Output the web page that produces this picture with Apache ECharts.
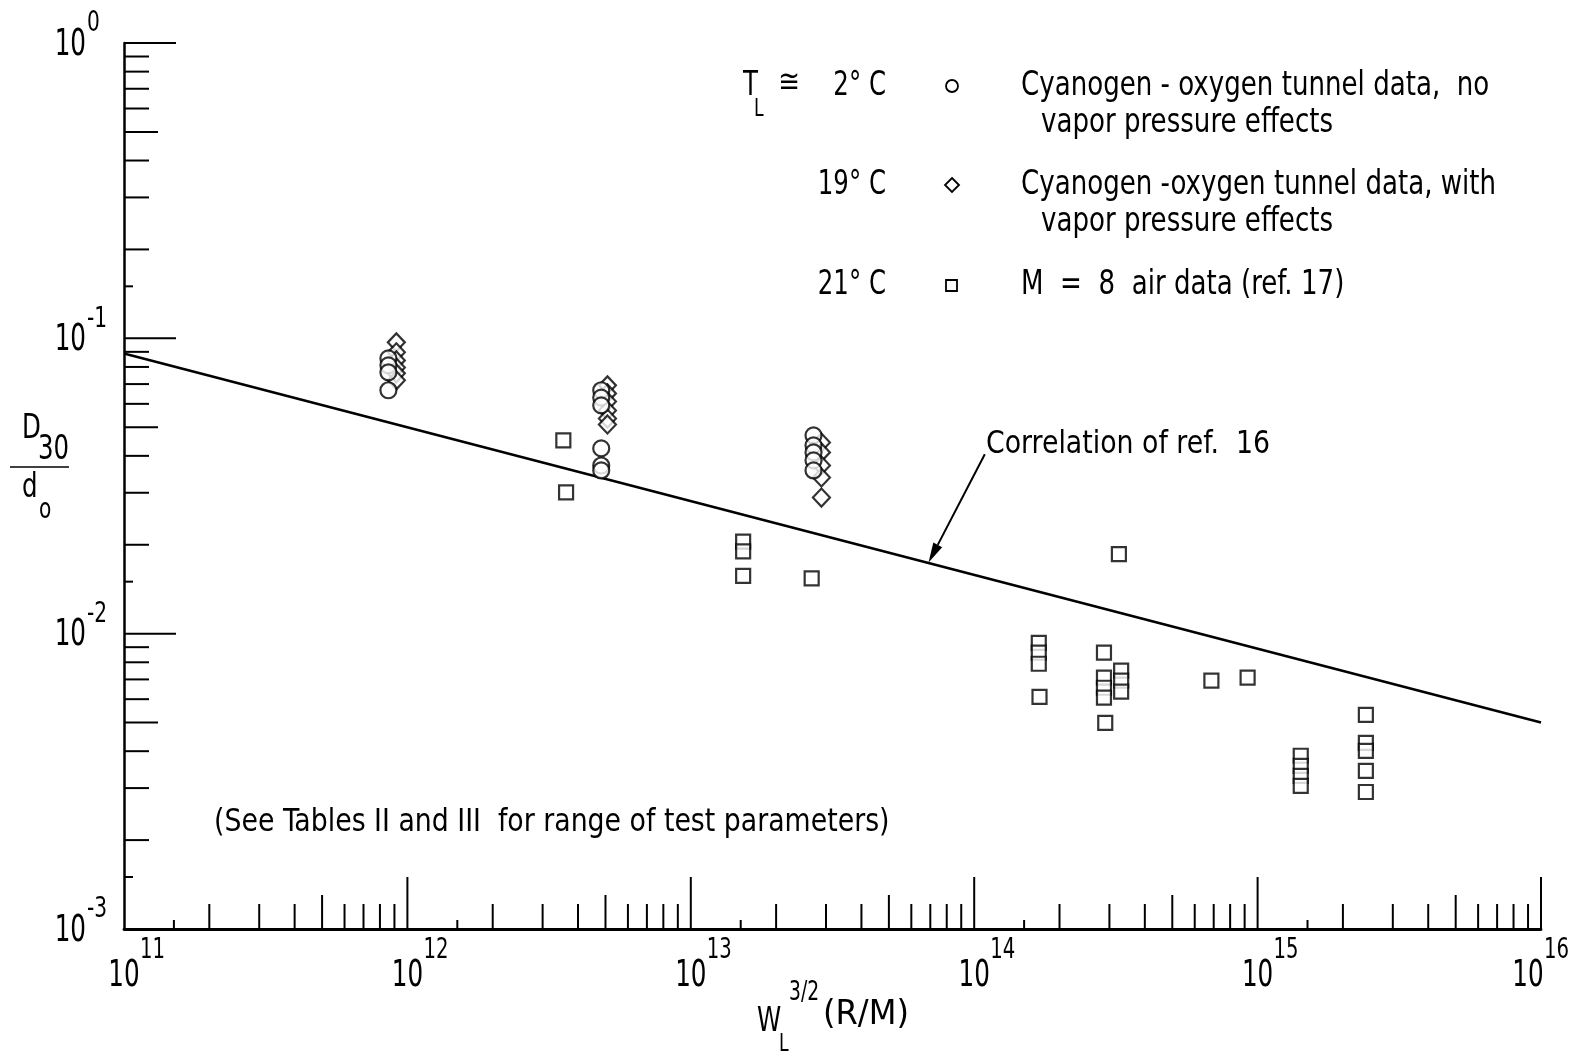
<!DOCTYPE html>
<html><head><meta charset="utf-8">
<script src="https://cdn.jsdelivr.net/npm/echarts@6/dist/echarts.min.js"></script>
<style>html,body{margin:0;padding:0;background:#fff}#c{width:1574px;height:1052px}</style>
</head><body><div id="c"></div>
<script>
// ---- axis ranges & ticks ----
const xMin = 1e11, xMax = 1e16, yMin = 1e-3, yMax = 1;
const tickMantissas = [1.5, 2, 3, 4, 5, 6, 7, 8, 9, 10];
const xDecades = [11, 12, 13, 14, 15];
const yDecades = [-3, -2, -1];
const xLabelExps = [11, 12, 13, 14, 15, 16];
const yLabelExps = [0, -1, -2, -3];

// ---- data ----
// T_L ~ 2 C : cyanogen-oxygen tunnel data, no vapor pressure effects (circles)
const circleData = [
  [8.57e11, 0.0855], [8.57e11, 0.0810], [8.57e11, 0.0767], [8.57e11, 0.0667],
  [4.83e12, 0.0667], [4.83e12, 0.0630], [4.83e12, 0.0593], [4.83e12, 0.0424], [4.83e12, 0.0371], [4.83e12, 0.0357],
  [2.71e13, 0.0469], [2.71e13, 0.0434], [2.71e13, 0.0411], [2.71e13, 0.0386], [2.71e13, 0.0357]
];
// 19 C : cyanogen-oxygen tunnel data, with vapor pressure effects (diamonds)
const diamondData = [
  [9.14e11, 0.0969], [9.14e11, 0.0897], [9.14e11, 0.0842], [9.14e11, 0.0797], [9.14e11, 0.0761], [9.14e11, 0.0721],
  [5.08e12, 0.0693], [5.08e12, 0.0651], [5.08e12, 0.0611], [5.08e12, 0.0570], [5.08e12, 0.0535], [5.08e12, 0.0511],
  [2.89e13, 0.0444], [2.89e13, 0.0411], [2.89e13, 0.0371], [2.89e13, 0.0338], [2.89e13, 0.0289]
];
// 21 C : M = 8 air data (ref. 17) (squares)
const squareData = [
  [3.55e12, 0.0451], [3.63e12, 0.0301],
  [1.53e13, 0.0205], [1.53e13, 0.0190], [1.53e13, 0.0157], [2.67e13, 0.0154],
  [1.69e14, 0.00931], [1.69e14, 0.00862], [1.69e14, 0.00791], [1.70e14, 0.00611],
  [2.87e14, 0.00862], [2.87e14, 0.00710], [2.87e14, 0.00656], [2.87e14, 0.00607], [2.90e14, 0.00499],
  [3.24e14, 0.01860],
  [3.30e14, 0.00750], [3.30e14, 0.00693], [3.30e14, 0.00636],
  [6.87e14, 0.00693], [9.22e14, 0.00710],
  [1.42e15, 0.00386], [1.42e15, 0.00357], [1.42e15, 0.00330], [1.42e15, 0.00305],
  [2.41e15, 0.00531], [2.41e15, 0.00427], [2.41e15, 0.00401], [2.41e15, 0.00343], [2.41e15, 0.00291]
];
// Correlation of ref. 16
const correlationLine = [[1e11, 0.0889], [1e16, 0.0050]];
const correlationArrow = [[1.09e14, 0.0405], [6.9e13, 0.0174]];

// ---- texts ----
const FONT = "'DejaVu Sans Condensed','Liberation Sans Narrow','Liberation Sans',sans-serif";
const legendRows = [
  { temp: '2° C', sym: 'circle', lines: ['Cyanogen - oxygen tunnel data,  no', 'vapor pressure effects'] },
  { temp: '19° C', sym: 'diamond', lines: ['Cyanogen -oxygen tunnel data, with', 'vapor pressure effects'] },
  { temp: '21° C', sym: 'square', lines: ['M  =  8  air data (ref. 17)'] }
];
const noteText = '(See Tables II and III  for range of test parameters)';
const corrText = 'Correlation of ref.  16';

function tickLen(m) {
  if (m === 10) return 52;
  if (m === 5) return 34;
  if (m === 1.5) return 9;
  return 25;
}
const xTicks = [], yTicks = [];
xDecades.forEach(d => tickMantissas.forEach(m => xTicks.push([m * Math.pow(10, d), yMin, m])));
yDecades.forEach(d => tickMantissas.forEach(m => yTicks.push([xMin, m * Math.pow(10, d), m])));

const chart = echarts.init(document.getElementById('c'), null, { renderer: 'canvas' });
const markerStyle = { color: '#fff', borderColor: '#000', borderWidth: 2.2 };

chart.setOption({
  animation: false,
  backgroundColor: '#fff',
  grid: { left: 124, right: 33, top: 43, bottom: 123 },
  xAxis: {
    type: 'log', logBase: 10, min: xMin, max: xMax,
    axisLine: { lineStyle: { color: '#000', width: 2.8 } },
    axisTick: { show: false }, axisLabel: { show: false }, splitLine: { show: false }
  },
  yAxis: {
    type: 'log', logBase: 10, min: yMin, max: yMax,
    axisLine: { lineStyle: { color: '#000', width: 2.5 } },
    axisTick: { show: false }, axisLabel: { show: false }, splitLine: { show: false }
  },
  series: [
    {
      type: 'custom', clip: false, silent: true, z: 3,
      dimensions: ['x', 'y', 'm'], encode: { x: 0, y: 1 },
      data: xTicks,
      renderItem: (params, api) => {
        const p = api.coord([api.value(0), yMin]);
        const len = tickLen(api.value(2));
        return { type: 'line', shape: { x1: p[0], y1: p[1], x2: p[0], y2: p[1] - len }, style: { stroke: '#000', lineWidth: 2 } };
      }
    },
    {
      type: 'custom', clip: false, silent: true, z: 3,
      dimensions: ['x', 'y', 'm'], encode: { x: 0, y: 1 },
      data: yTicks,
      renderItem: (params, api) => {
        const p = api.coord([xMin, api.value(1)]);
        const len = tickLen(api.value(2));
        return { type: 'line', shape: { x1: p[0], y1: p[1], x2: p[0] + len, y2: p[1] }, style: { stroke: '#000', lineWidth: 2 } };
      }
    },
    {
      type: 'line', data: correlationLine, showSymbol: false, symbol: 'none', z: 2,
      lineStyle: { color: '#000', width: 2.6 }
    },
    { type: 'scatter', data: squareData, symbol: 'rect', symbolSize: 14, itemStyle: markerStyle, z: 4 },
    { type: 'scatter', data: diamondData, symbol: 'diamond', symbolSize: [17, 18], itemStyle: markerStyle, z: 5 },
    { type: 'scatter', data: circleData, symbol: 'circle', symbolSize: 16, itemStyle: markerStyle, z: 6 }
  ]
});

function px(v) { return chart.convertToPixel({ gridIndex: 0 }, v); }
function txt(x, y, s, size, align, sx) {
  return {
    type: 'text', x: x, y: y, z: 100, scaleX: sx || 1, scaleY: 1,
    style: { text: s, font: size + 'px ' + FONT, fill: '#000', textAlign: align || 'left', textVerticalAlign: 'middle', align: align || 'left', verticalAlign: 'middle' }
  };
}
const g = [];
// x tick labels
xLabelExps.forEach((e, i) => {
  const p = px([Math.pow(10, e), yMin]);
  const sh = (i === xLabelExps.length - 1) ? -13 : 0;
  g.push(txt(p[0] + sh, p[1] + 47, '10', 37, 'center', 0.74));
  g.push(txt(p[0] + sh + 16, p[1] + 22, String(e), 28, 'left', 0.78));
});
// y tick labels
yLabelExps.forEach(e => {
  const p = px([xMin, Math.pow(10, e)]);
  g.push(txt(p[0] - 38, p[1] + 2, '10', 37, 'right', 0.74));
  g.push(txt(p[0] - 37, p[1] - 19, String(e), 28, 'left', 0.8));
});
// axis titles
g.push(txt(757, 1022, 'W', 34, 'left', 0.8));
g.push(txt(779, 1045, 'L', 24, 'left', 0.8));
g.push(txt(789, 993, '3/2', 26, 'left', 0.8));
g.push(txt(823, 1015, '(R/M)', 34, 'left', 1.05));
g.push(txt(22, 429, 'D', 34, 'left', 0.8));
g.push(txt(38, 450, '30', 34, 'left', 0.8));
g.push({ type: 'line', z: 100, shape: { x1: 10, y1: 467, x2: 69, y2: 467 }, style: { stroke: '#000', lineWidth: 1.5 } });
g.push(txt(22, 488, 'd', 34, 'left', 0.8));
g.push(txt(39, 511, 'o', 28, 'left', 0.8));
// legend
const rowY = [86, 185, 285];
g.push(txt(743, rowY[0], 'T', 34, 'left', 0.8));
g.push(txt(754, rowY[0] + 24, 'L', 24, 'left', 0.8));
g.push(txt(789, rowY[0] - 2, '≅', 32, 'center', 0.9));
legendRows.forEach((r, i) => {
  const y = rowY[i];
  g.push(txt(886, y, r.temp, 34, 'right', 0.8));
  if (r.sym === 'circle') g.push({ type: 'circle', z: 100, shape: { cx: 952, cy: y, r: 6 }, style: { fill: '#fff', stroke: '#000', lineWidth: 1.8 } });
  if (r.sym === 'diamond') g.push({ type: 'polygon', z: 100, shape: { points: [[952, y - 7], [959, y], [952, y + 7], [945, y]] }, style: { fill: '#fff', stroke: '#000', lineWidth: 1.8 } });
  if (r.sym === 'square') g.push({ type: 'rect', z: 100, shape: { x: 946, y: y - 5, width: 11, height: 11 }, style: { fill: '#fff', stroke: '#000', lineWidth: 1.8 } });
  g.push(txt(1021, y, r.lines[0], 34, 'left', 0.853));
  if (r.lines[1]) g.push(txt(1041, y + 37, r.lines[1], 34, 'left', 0.853));
});
// note
g.push(txt(214, 823, noteText, 32, 'left', 0.93));
// correlation annotation
g.push(txt(986, 445, corrText, 32, 'left', 0.93));
const a0 = px(correlationArrow[0]), a1 = px(correlationArrow[1]);
const ang = Math.atan2(a1[1] - a0[1], a1[0] - a0[0]);
const hl = 20, hw = 5;
const bx = a1[0] - hl * Math.cos(ang), by = a1[1] - hl * Math.sin(ang);
g.push({ type: 'line', z: 100, shape: { x1: a0[0], y1: a0[1], x2: bx, y2: by }, style: { stroke: '#000', lineWidth: 2 } });
g.push({ type: 'polygon', z: 100, shape: { points: [[a1[0], a1[1]], [bx + hw * Math.sin(ang), by - hw * Math.cos(ang)], [bx - hw * Math.sin(ang), by + hw * Math.cos(ang)]] }, style: { fill: '#000' } });

chart.setOption({ graphic: g });
</script>
</body></html>
